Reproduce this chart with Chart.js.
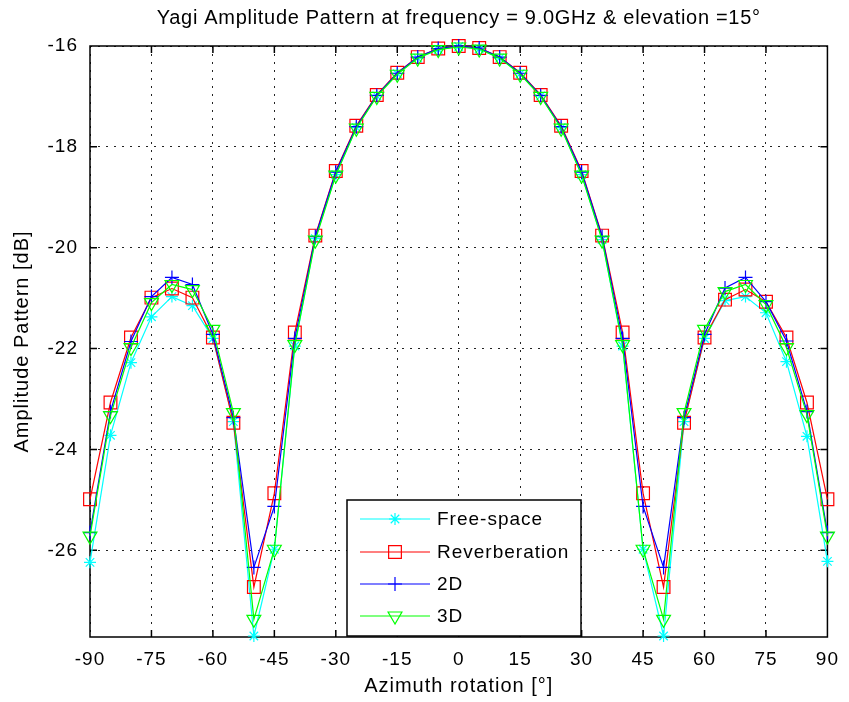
<!DOCTYPE html>
<html>
<head>
<meta charset="utf-8">
<script src="https://cdn.jsdelivr.net/npm/chart.js@4.4.1/dist/chart.umd.min.js"></script>
<style>
  body { margin: 0; background: #fff; }
  #wrap { width: 849px; height: 702px; }
</style>
</head>
<body>
<div id="wrap"><canvas id="patternChart"></canvas></div>
<script>
// Yagi amplitude pattern, 9.0 GHz, elevation 15 deg

const azimuth = [-90, -85, -80, -75, -70, -65, -60, -55, -50, -45, -40, -35, -30, -25, -20, -15, -10, -5, 0,
                 5, 10, 15, 20, 25, 30, 35, 40, 45, 50, 55, 60, 65, 70, 75, 80, 85, 90];

const freeSpace = [-26.24, -23.72, -22.28, -21.37, -20.97, -21.15, -21.80, -23.45, -27.70, -25.98, -21.95, -19.82,
                   -18.55, -17.62, -16.99, -16.55, -16.24, -16.07, -16.01, -16.06, -16.24, -16.55, -16.99, -17.62,
                   -18.55, -19.84, -21.95, -25.98, -27.70, -23.45, -21.80, -21.05, -20.97, -21.29, -22.26, -23.74, -26.22];

const reverberation = [-24.99, -23.07, -21.78, -20.99, -20.81, -20.99, -21.78, -23.47, -26.73, -24.87, -21.68, -19.76,
                       -18.48, -17.58, -16.97, -16.53, -16.22, -16.05, -16.00, -16.04, -16.22, -16.53, -16.97, -17.58,
                       -18.48, -19.76, -21.68, -24.87, -26.73, -23.47, -21.78, -21.03, -20.83, -21.07, -21.78, -23.07, -24.99];

const twoD = [-25.65, -23.25, -21.86, -20.97, -20.59, -20.73, -21.72, -23.37, -26.34, -25.13, -21.80, -19.78,
              -18.50, -17.60, -16.98, -16.54, -16.22, -16.05, -16.00, -16.04, -16.22, -16.54, -16.98, -17.60,
              -18.50, -19.78, -21.80, -25.13, -26.34, -23.37, -21.72, -20.80, -20.59, -21.07, -21.85, -23.25, -25.65];

const threeD = [-25.72, -23.33, -21.98, -21.09, -20.73, -20.83, -21.62, -23.27, -27.37, -25.98, -21.92, -19.85,
                -18.56, -17.63, -17.00, -16.56, -16.24, -16.07, -16.02, -16.06, -16.24, -16.56, -17.00, -17.63,
                -18.56, -19.85, -21.92, -25.98, -27.37, -23.27, -21.62, -20.87, -20.73, -21.13, -21.98, -23.31, -25.72];

const xTicks = [-90, -75, -60, -45, -30, -15, 0, 15, 30, 45, 60, 75, 90];
const yTicks = [-26, -24, -22, -20, -18, -16];

const chartTitle = 'Yagi Amplitude Pattern at frequency = 9.0GHz & elevation =15°';

const FONT = 'Liberation Sans, Arial, sans-serif';

function toPoints(values) {
    return azimuth.map(function(a, i) { return { x: a, y: values[i] }; });
}

function series(label, values, color, style, radius, rotation, order) {
    return {
        label: label,
        data: toPoints(values),
        borderColor: color,
        backgroundColor: color,
        borderWidth: 1.2,
        pointStyle: style,
        pointRadius: radius,
        pointRotation: rotation,
        pointBorderColor: color,
        pointBackgroundColor: 'rgba(0,0,0,0)',
        pointBorderWidth: 1.2,
        tension: 0,
        fill: false,
        clip: false,
        order: order
    };
}

const seriesList = [
    series('Free-space', freeSpace, '#00ffff', 'star', 6, 0, 3),
    series('Reverberation', reverberation, '#ff0000', 'rect', 9, 0, 2),
    series('2D', twoD, '#0000ff', 'cross', 7, 0, 1),
    series('3D', threeD, '#00ff00', 'triangle', 8, 180, 0)
];

// letter spacing for the MATLAB-like text
const textSpacing = {
    id: 'textSpacing',
    beforeDraw(chart) { chart.ctx.letterSpacing = '1px'; }
};

// title centred over the plot area
const plotTitle = {
    id: 'plotTitle',
    afterDraw(chart) {
        const ctx = chart.ctx;
        const a = chart.chartArea;
        ctx.save();
        ctx.letterSpacing = '0.7px';
        ctx.fillStyle = '#000';
        ctx.font = '20px ' + FONT;
        ctx.textAlign = 'center';
        ctx.textBaseline = 'middle';
        ctx.fillText(chartTitle, (a.left + a.right) / 2, 18);
        ctx.restore();
    }
};

// solid box with inward ticks on all four sides
const axesBox = {
    id: 'axesBox',
    beforeDatasetsDraw(chart) {
        const ctx = chart.ctx;
        const a = chart.chartArea;
        const xs = chart.scales.x, ys = chart.scales.y;
        const len = 7;
        ctx.save();
        ctx.strokeStyle = '#000';
        ctx.lineWidth = 1.5;
        ctx.setLineDash([]);
        ctx.beginPath();
        ctx.rect(a.left, a.top, a.right - a.left, a.bottom - a.top);
        xTicks.forEach(function(v) {
            const px = xs.getPixelForValue(v);
            ctx.moveTo(px, a.bottom); ctx.lineTo(px, a.bottom - len);
            ctx.moveTo(px, a.top); ctx.lineTo(px, a.top + len);
        });
        yTicks.forEach(function(v) {
            const py = ys.getPixelForValue(v);
            ctx.moveTo(a.left, py); ctx.lineTo(a.left + len, py);
            ctx.moveTo(a.right, py); ctx.lineTo(a.right - len, py);
        });
        ctx.stroke();
        ctx.restore();
    }
};

// legend box inside the plot, lower middle
const legendBox = {
    id: 'legendBox',
    afterDraw(chart) {
        const ctx = chart.ctx;
        const left = 347, top = 500, w = 234, h = 136;
        const rows = [519, 552, 584, 616];
        ctx.save();
        ctx.fillStyle = '#fff';
        ctx.fillRect(left, top, w, h);
        ctx.strokeStyle = '#000';
        ctx.lineWidth = 1.5;
        ctx.strokeRect(left, top, w, h);
        chart.data.datasets.forEach(function(ds, i) {
            const y = rows[i];
            ctx.strokeStyle = ds.borderColor;
            ctx.lineWidth = 1.2;
            ctx.beginPath();
            ctx.moveTo(360, y);
            ctx.lineTo(430, y);
            ctx.stroke();
            ctx.fillStyle = 'rgba(0,0,0,0)';
            Chart.helpers.drawPoint(ctx, {
                pointStyle: ds.pointStyle,
                radius: ds.pointRadius,
                rotation: ds.pointRotation,
                borderWidth: 1.2
            }, 395, y);
            ctx.fillStyle = '#000';
            ctx.font = '19px ' + FONT;
            ctx.textBaseline = 'middle';
            ctx.textAlign = 'left';
            ctx.fillText(ds.label, 437, y + 1);
        });
        ctx.restore();
    }
};

const ctx = document.getElementById('patternChart').getContext('2d');

new Chart(ctx, {
    type: 'line',
    data: { datasets: seriesList },
    plugins: [textSpacing, axesBox, legendBox, plotTitle],
    options: {
        responsive: true,
        maintainAspectRatio: false,
        animation: false,
        layout: { padding: { left: 0, right: 21, top: 46, bottom: 0 } },
        plugins: {
            legend: { display: false },
            tooltip: { enabled: false },
            title: { display: false }
        },
        scales: {
            x: {
                type: 'linear',
                min: -90,
                max: 90,
                afterFit: function(scale) { scale.height = 65; },
                afterBuildTicks: function(scale) {
                    scale.ticks = xTicks.map(function(v) { return { value: v }; });
                },
                ticks: {
                    color: '#000',
                    font: { family: FONT, size: 19 },
                    padding: 11,
                    maxRotation: 0,
                    autoSkip: false
                },
                grid: { color: '#222', lineWidth: 1, drawTicks: false },
                border: { display: false, dash: [2, 6] },
                title: {
                    display: true,
                    text: 'Azimuth rotation [°]',
                    color: '#000',
                    font: { family: FONT, size: 20 },
                    padding: { top: 0, bottom: 4 }
                }
            },
            y: {
                type: 'linear',
                min: -27.72,
                max: -16,
                afterFit: function(scale) { scale.width = 90; },
                afterBuildTicks: function(scale) {
                    scale.ticks = yTicks.map(function(v) { return { value: v }; });
                },
                ticks: {
                    color: '#000',
                    font: { family: FONT, size: 19 },
                    padding: 12
                },
                grid: { color: '#222', lineWidth: 1, drawTicks: false },
                border: { display: false, dash: [2, 6] },
                title: {
                    display: true,
                    text: 'Amplitude Pattern [dB]',
                    color: '#000',
                    font: { family: FONT, size: 20 },
                    padding: { top: 10, bottom: 0 }
                }
            }
        }
    }
});
</script>
</body>
</html>
